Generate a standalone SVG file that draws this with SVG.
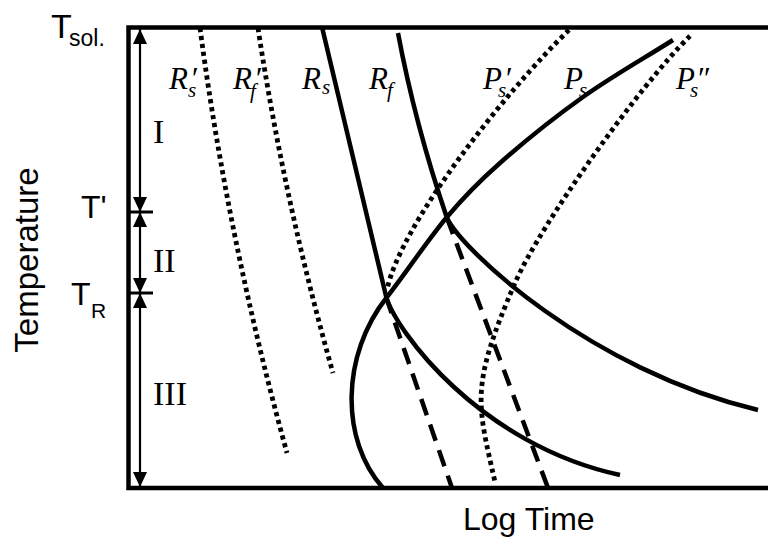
<svg xmlns="http://www.w3.org/2000/svg" width="768" height="541" viewBox="0 0 768 541">
<style>
.sans{font-family:"Liberation Sans",Arial,sans-serif;fill:#000}
.ser{font-family:"Liberation Serif","Times New Roman",serif;fill:#000}
.lab{font-family:"Liberation Serif","Times New Roman",serif;font-style:italic;font-size:31px;fill:#000}
.sub{font-size:21px}
.solid{fill:none;stroke:#000;stroke-width:4.5}
.dot{fill:none;stroke:#000;stroke-width:4.8;stroke-dasharray:4.2 3.8}
.dash{fill:none;stroke:#000;stroke-width:4.5;stroke-dasharray:17 10}
.axis{fill:none;stroke:#000;stroke-width:2.2;marker-start:url(#ah);marker-end:url(#ah)}
</style>
<defs>
<marker id="ah" viewBox="0 0 15 14" refX="15" refY="7" markerWidth="15" markerHeight="14" markerUnits="userSpaceOnUse" orient="auto-start-reverse">
<path d="M0,0 L15,7 L0,14 Z" fill="#000"/>
</marker>
</defs>
<rect width="768" height="541" fill="#fff"/>
<g id="frame">
<path d="M768,27.5 H128.5 V488 H768" fill="none" stroke="#000" stroke-width="4.5"/>
</g>
<g id="temperature-scale">
<line class="axis" x1="140" y1="29" x2="140" y2="212"/>
<line class="axis" x1="140" y1="212" x2="140" y2="293"/>
<line class="axis" x1="140" y1="293" x2="140" y2="487"/>
<line x1="127" y1="212" x2="153" y2="212" stroke="#000" stroke-width="3"/>
<line x1="127" y1="293" x2="153" y2="293" stroke="#000" stroke-width="3"/>
<text class="ser" font-size="34" x="153" y="143">I</text>
<text class="ser" font-size="34" x="153" y="272">II</text>
<text class="ser" font-size="34" x="153" y="405">III</text>
</g>
<g id="axis-labels">
<text class="sans" font-size="34" x="51" y="38">T<tspan font-size="23" x="69" y="46">sol.</tspan></text>
<text class="sans" font-size="32" x="81" y="218">T'</text>
<text class="sans" font-size="32" x="71" y="305">T<tspan font-size="21" x="91" y="318">R</tspan></text>
<text class="sans" font-size="33" text-anchor="middle" transform="translate(38,260) rotate(-90)">Temperature</text>
<text class="sans" font-size="32" x="463" y="530">Log Time</text>
</g>
<g id="connectors">
<g id="curve-Rs-prime"><path class="dot" d="M200,28 Q228,240 287,453"/></g>
<g id="curve-Rf-prime"><path class="dot" d="M258,28 Q284,200 333,373"/></g>
<g id="curve-Rs">
<path class="solid" d="M322,27 L386,296 C395,330 480,445 620,475"/>
<path class="dash" d="M386,297 L452,488"/>
</g>
<g id="curve-Rf">
<path class="solid" d="M398,33 Q415,124 447,218 C462,250 590,370 758,410"/>
<path class="dash" d="M447,218 L548,488"/>
</g>
<g id="curve-Ps">
<path class="solid" d="M383,488 C340,440 341,355 387,297 C405.3,273.7 428.2,239.3 447,217 C465.8,194.7 477.3,183 500,163 C522.7,143 554.2,117.5 583,97 C611.8,76.5 643,59 673,40"/>
</g>
<g id="curve-Ps-prime"><path class="dot" d="M569,30 C505,92 400,225 387,290"/></g>
<g id="curve-Ps-dprime"><path class="dot" d="M690,36 C640,85 540,225 515,283 C470,387 477,402 495,482"/></g>
</g>
<g id="curve-labels">
<text class="lab"><tspan x="169" y="89">R</tspan><tspan x="190" y="89">′</tspan><tspan class="sub" x="188" y="97">s</tspan></text>
<text class="lab"><tspan x="233" y="89">R</tspan><tspan x="254" y="89">′</tspan><tspan class="sub" x="250" y="98">f</tspan></text>
<text class="lab"><tspan x="302" y="89">R</tspan><tspan class="sub" x="322" y="94">s</tspan></text>
<text class="lab"><tspan x="369" y="89">R</tspan><tspan class="sub" x="387" y="97">f</tspan></text>
<text class="lab"><tspan x="483" y="89">P</tspan><tspan x="504" y="89">′</tspan><tspan class="sub" x="498" y="97">s</tspan></text>
<text class="lab"><tspan x="564" y="89">P</tspan><tspan class="sub" x="579" y="97">s</tspan></text>
<text class="lab"><tspan x="676" y="89">P</tspan><tspan x="696" y="89">″</tspan><tspan class="sub" x="690" y="97">s</tspan></text>
</g>
</svg>
